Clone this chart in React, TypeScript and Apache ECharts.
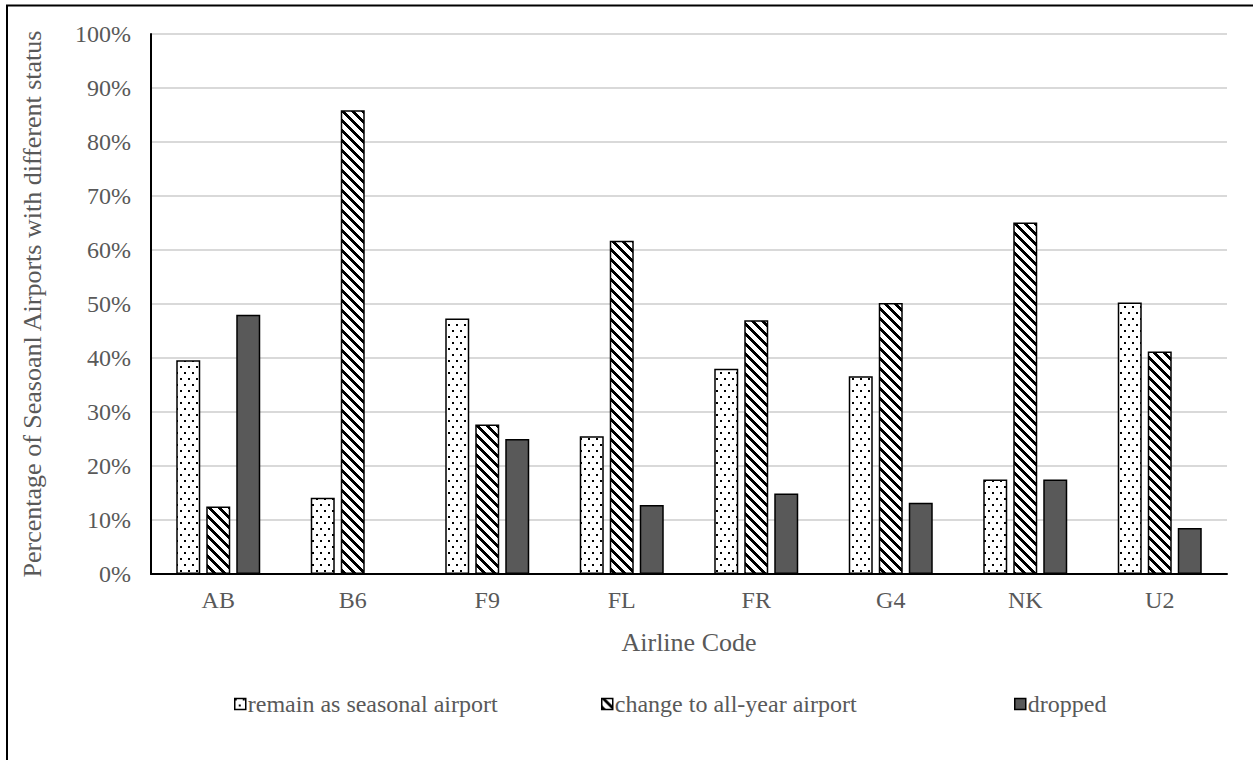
import React, { useEffect, useRef } from "react";
import * as echarts from "echarts";

// Airline codes along the category axis
const airlines = ["AB", "B6", "F9", "FL", "FR", "G4", "NK", "U2"];

// Status groups (legend entries)
const statusNames = [
  "remain as seasonal airport",
  "change to all-year airport",
  "dropped",
];

// Share of seasonal airports per status, in percent
const remainSeasonal = [39.6, 14.1, 47.3, 25.5, 38.0, 36.6, 17.5, 50.3];
const changeAllYear = [12.5, 85.9, 27.7, 61.7, 47.0, 50.2, 65.1, 41.2];
const dropped = [48.0, 0, 25.0, 12.8, 14.9, 13.2, 17.5, 8.5];

// Value axis range and step, in percent
const yMin = 0;
const yMax = 100;
const yStep = 10;

const FONT = '"Liberation Serif", "Times New Roman", serif';
const TEXT_GREY = "#595959";

// Build a small black-on-white bitmap tile used as a repeating fill
function makeTile(w: number, h: number, ink: (x: number, y: number) => boolean) {
  const canvas = document.createElement("canvas");
  canvas.width = w;
  canvas.height = h;
  const ctx = canvas.getContext("2d")!;
  const img = ctx.createImageData(w, h);
  for (let y = 0; y < h; y++) {
    for (let x = 0; x < w; x++) {
      const i = (y * w + x) * 4;
      const v = ink(x, y) ? 0 : 255;
      img.data[i] = v;
      img.data[i + 1] = v;
      img.data[i + 2] = v;
      img.data[i + 3] = 255;
    }
  }
  ctx.putImageData(img, 0, 0);
  return { image: canvas, repeat: "repeat", imageWidth: w, imageHeight: h };
}

export default function App() {
  const ref = useRef<HTMLDivElement>(null);

  useEffect(() => {
    if (!ref.current) return;
    const chart = echarts.init(ref.current, undefined, { renderer: "svg" });

    // sparse staggered dots
    const dotted = makeTile(8, 12, (x, y) =>
      (x < 2 && y < 2) || (x >= 4 && x < 6 && y >= 6 && y < 8)
    );
    // wide downward diagonal stripes
    const hatched = makeTile(10, 10, (x, y) => (x - y + 100) % 10 < 4);

    const fills: any[] = [dotted, hatched, TEXT_GREY];
    const values = [remainSeasonal, changeAllYear, dropped];
    const legendLeft = [229, 596, 1009];

    const option: any = {
      animation: false,
      backgroundColor: "#ffffff",
      textStyle: { fontFamily: FONT },
      graphic: [
        {
          type: "rect",
          shape: { x: 7, y: 5.5, width: 1400, height: 900 },
          style: { fill: "none", stroke: "#000", lineWidth: 2 },
          silent: true,
          z: 100,
        },
      ],
      legend: statusNames.map((name, i) => ({
        data: [name],
        left: legendLeft[i],
        top: 687,
        itemWidth: 11,
        itemHeight: 11,
        itemGap: 0,
        icon: "rect",
        selectedMode: false,
        itemStyle: { borderColor: "#000", borderWidth: 1.5 },
        textStyle: {
          color: TEXT_GREY,
          fontSize: 24,
          fontFamily: FONT,
          padding: [0, 0, 0, -3],
        },
      })),
      grid: { left: 151, right: 26, top: 34, bottom: 186, containLabel: false },
      xAxis: {
        type: "category",
        data: airlines,
        name: "Airline Code",
        nameLocation: "middle",
        nameGap: 55,
        nameTextStyle: { color: TEXT_GREY, fontSize: 26, fontFamily: FONT },
        axisLine: { show: true, lineStyle: { color: "#000", width: 2 } },
        axisTick: { show: false },
        axisLabel: {
          color: TEXT_GREY,
          fontSize: 24,
          fontFamily: FONT,
          margin: 14,
        },
      },
      yAxis: {
        type: "value",
        min: yMin,
        max: yMax,
        interval: yStep,
        name: "Percentage of Seasoanl Airports with different status",
        nameLocation: "middle",
        nameGap: 106,
        nameTextStyle: { color: TEXT_GREY, fontSize: 26, fontFamily: FONT },
        axisLine: { show: true, lineStyle: { color: "#000", width: 2 } },
        axisTick: { show: false },
        axisLabel: {
          color: TEXT_GREY,
          fontSize: 24,
          fontFamily: FONT,
          margin: 20,
          formatter: (v: number) => `${v}%`,
        },
        splitLine: { show: true, lineStyle: { color: "#d9d9d9", width: 2 } },
      },
      series: statusNames.map((name, i) => ({
        name,
        type: "bar",
        data: values[i],
        barWidth: 24,
        barGap: "25%",
        itemStyle: {
          color: fills[i],
          borderColor: "#000",
          borderWidth: 1.5,
        },
      })),
    };

    chart.setOption(option);
    return () => chart.dispose();
  }, []);

  return (
    <div
      ref={ref}
      style={{ position: "absolute", left: 0, top: 0, width: 1253, height: 760 }}
    />
  );
}
